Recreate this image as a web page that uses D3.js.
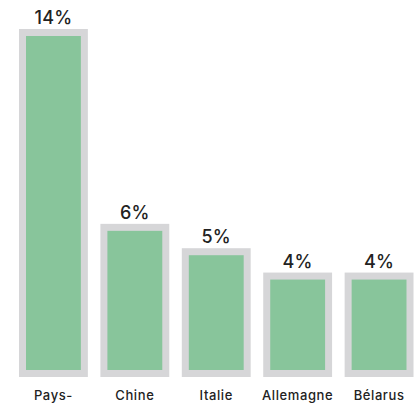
<!DOCTYPE html>
<html>
<head>
<meta charset="utf-8">
<script src="https://cdn.jsdelivr.net/npm/d3@7"></script>
<style>
  html, body { margin: 0; padding: 0; background: #fff; }
  svg { display: block; }
</style>
</head>
<body>
<script>
// Share by country, in percent
const countries = ["Pays-", "Chine", "Italie", "Allemagne", "Bélarus"];
const shares = [14, 6, 5, 4, 4];

const width = 420, height = 403;
const baseline = 373.5;   // centre line of the bar outline at the bottom
const border = 7;          // width of the grey outline
const font = "Inter, 'Noto Sans', sans-serif";

const svg = d3.select("body").append("svg")
  .attr("width", width)
  .attr("height", height);

const x = d3.scaleBand()
  .domain(countries)
  .range([22.5, 410])
  .paddingInner(0.24)
  .paddingOuter(0);

const y = d3.scaleLinear()
  .domain([0, 14])
  .range([baseline, 32.5]);

const data = countries.map((c, i) => ({ country: c, value: shares[i] }));

// Bars: green fill with a wide grey outline
svg.append("g")
  .selectAll("rect")
  .data(data)
  .join("rect")
  .attr("x", d => x(d.country))
  .attr("y", d => y(d.value))
  .attr("width", x.bandwidth())
  .attr("height", d => y(0) - y(d.value))
  .attr("fill", "#88c59b")
  .attr("stroke", "#d6d6d8")
  .attr("stroke-width", border);

// Value labels above each bar
svg.append("g")
  .selectAll("text")
  .data(data)
  .join("text")
  .attr("x", d => x(d.country) + x.bandwidth() / 2)
  .attr("y", d => y(d.value) - border / 2 - 5)
  .attr("text-anchor", "middle")
  .attr("font-family", font)
  .attr("font-weight", 500)
  .attr("font-size", 18)
  .attr("letter-spacing", "0.3px")
  .attr("fill", "#222")
  .text(d => d.value + "%");

// Category axis (labels only)
const xAxis = svg.append("g")
  .attr("transform", `translate(0, ${baseline + border / 2})`)
  .call(d3.axisBottom(x).tickSize(0).tickPadding(14));
xAxis.select(".domain").remove();
xAxis.selectAll("text")
  .attr("font-family", font)
  .attr("font-weight", 500)
  .attr("font-size", 13)
  .attr("letter-spacing", "0.6px")
  .attr("fill", "#222");
</script>
</body>
</html>
